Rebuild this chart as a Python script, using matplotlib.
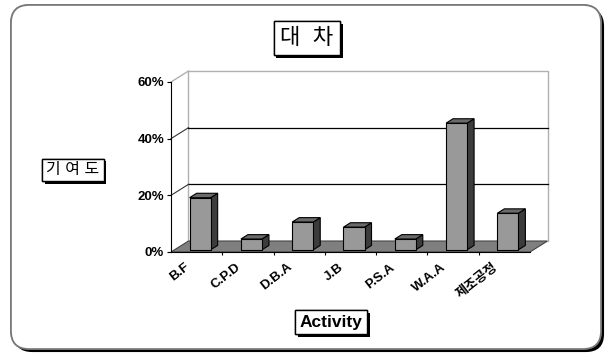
import numpy as np
import matplotlib.pyplot as plt
from matplotlib.patches import Polygon, FancyBboxPatch
import matplotlib.patheffects as pe
from matplotlib.transforms import offset_copy

categories = ["B.F", "C.P.D", "D.B.A", "J.B", "P.S.A", "W.A.A", "제조공정"]
values = [18.4, 3.8, 9.8, 8.0, 3.8, 44.7, 12.9]
yticks = [0, 20, 40, 60]
ytick_labels = ["0%", "20%", "40%", "60%"]

FONTS = ['Liberation Sans', 'Noto Sans CJK KR', 'DejaVu Sans']
plt.rcParams['font.family'] = FONTS

W, H = 606, 356
fig = plt.figure(figsize=(W / 100, H / 100), dpi=100)
fig.patch.set_facecolor('white')

# outer rounded frame with shadow
frame = FancyBboxPatch((11 / W, 1 - 349 / H), 590 / W, 344 / H,
                       boxstyle="round,pad=0,rounding_size=0.03",
                       transform=fig.transFigure, facecolor='white',
                       edgecolor='#777777', linewidth=1.2, zorder=-5,
                       mutation_aspect=W / H)
frame.set_path_effects([pe.withSimplePatchShadow(offset=(2.2, -2.2), shadow_rgbFace='black', alpha=1.0),
                        pe.Normal()])
fig.patches.append(frame)

x0, x1, y0, y1 = 171, 530, 252, 82
ax = fig.add_axes([x0 / W, 1 - y0 / H, (x1 - x0) / W, (y0 - y1) / H])
ax.set_xlim(0, len(categories))
ax.set_ylim(0, 60)
ax.patch.set_alpha(0)

n = len(categories)
px_x = (x1 - x0) / n
px_y = (y0 - y1) / 60
dx = 17.5 / px_x
dy = 11 / px_y

# back wall, side wall and grid
wall_col = '#b0b0b0'
ax.plot([dx, dx, n + dx, n + dx], [dy, 60 + dy, 60 + dy, dy], color=wall_col, lw=1, clip_on=False, zorder=1)
ax.plot([0, dx], [60, 60 + dy], color=wall_col, lw=1, clip_on=False, zorder=1)
for t in yticks[1:-1]:
    ax.plot([dx, n + dx], [t + dy, t + dy], color='black', lw=0.9, clip_on=False, zorder=1)
    ax.plot([0, dx], [t, t + dy], color='#333333', lw=0.8, clip_on=False, zorder=1)

# floor
floor = Polygon([(0, 0), (n, 0), (n + dx, dy), (dx, dy)], closed=True,
                facecolor='#7f7f7f', edgecolor='#444444', lw=0.8, clip_on=False, zorder=2)
ax.add_patch(floor)

# 3d bars
bw = 0.41
f0, f1 = 0.2, 0.6
for i, v in enumerate(values):
    xl = i + 0.5 - bw / 2 + f0 * dx
    xr = xl + bw
    yb = f0 * dy
    ddx = (f1 - f0) * dx
    ddy = (f1 - f0) * dy
    side = Polygon([(xr, yb), (xr + ddx, yb + ddy), (xr + ddx, yb + v + ddy), (xr, yb + v)],
                   closed=True, facecolor='#3c3c3c', edgecolor='black', lw=0.8, clip_on=False, zorder=3)
    top = Polygon([(xl, yb + v), (xr, yb + v), (xr + ddx, yb + v + ddy), (xl + ddx, yb + v + ddy)],
                  closed=True, facecolor='#6a6a6a', edgecolor='black', lw=0.8, clip_on=False, zorder=3)
    ax.add_patch(side)
    ax.add_patch(top)
    ax.bar(xl, v, width=bw, bottom=yb, align='edge', color='#999999',
           edgecolor='black', linewidth=0.8, zorder=4, clip_on=False)

# axes styling
for s in ['top', 'right']:
    ax.spines[s].set_visible(False)
ax.spines['left'].set_color('black')
ax.spines['bottom'].set_color('black')
ax.spines['left'].set_zorder(5)
ax.spines['bottom'].set_zorder(5)
ax.set_yticks(yticks)
ax.set_yticklabels(ytick_labels, fontsize=9.5, fontweight='bold')
ax.tick_params(axis='y', length=3, width=0.8, pad=2)
ax.set_xticks(np.arange(1, n))
ax.set_xticklabels([])
ax.tick_params(axis='x', length=4, width=0.8, direction='inout')

lab_tr = offset_copy(ax.transData, fig=fig, x=-6, y=-10, units='points')
for i, c in enumerate(categories):
    ax.text(i + 0.5, 0, c, transform=lab_tr, rotation=38, rotation_mode='anchor',
            ha='right', va='center', fontsize=9.5, fontweight='bold', clip_on=False)


def boxed(x, y, s, size, weight='normal', pad=0.3):
    t = fig.text(x / W, 1 - y / H, s, ha='center', va='center', fontsize=size, fontweight=weight,
                 bbox=dict(boxstyle=f'square,pad={pad}', facecolor='white', edgecolor='black', linewidth=1))
    t.get_bbox_patch().set_path_effects([pe.withSimplePatchShadow(offset=(2, -2), shadow_rgbFace='black', alpha=1.0),
                                         pe.Normal()])
    return t


boxed(307, 38, "대  차", 16)
boxed(73, 170, "기 여 도", 11.5, pad=0.25)
boxed(331, 322, "Activity", 12.5, 'bold', 0.25)

fig.savefig('out.png', dpi=100)
